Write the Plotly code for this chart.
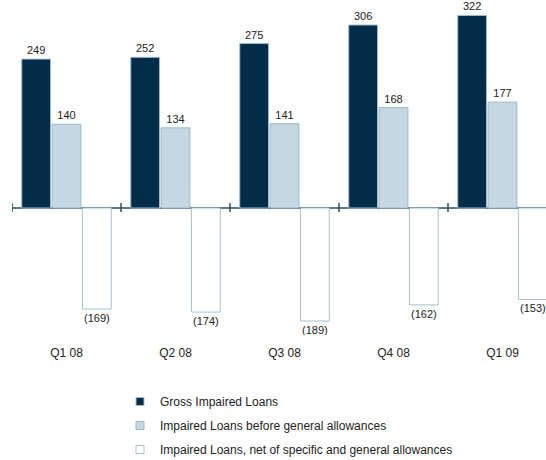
import plotly.graph_objects as go

quarters = ["Q1 08", "Q2 08", "Q3 08", "Q4 08", "Q1 09"]
gross = [249, 252, 275, 306, 322]
before_general = [140, 134, 141, 168, 177]
net = [-169, -174, -189, -162, -153]

names = ["Gross Impaired Loans",
         "Impaired Loans before general allowances",
         "Impaired Loans, net of specific and general allowances"]
fills = ["#032d48", "#c5d7e1", "#ffffff"]
lines = ["#9fbccb", "#9bbaca", "#a5c1cf"]

xs = list(range(len(quarters)))

def lab(v):
    return f"({abs(v)})" if v < 0 else f"{v}"

fig = go.Figure()
for k, (name, vals, fc, lc) in enumerate(zip(names, [gross, before_general, net], fills, lines)):
    fig.add_trace(go.Bar(
        x=xs, y=vals, name=name, showlegend=False, legendgroup=f"g{k}",
        marker=dict(color=fc, line=dict(color=lc, width=1)),
        text=[lab(v) for v in vals], textposition="outside",
        textfont=dict(family="Liberation Sans, Arial", size=11, color="#222222"),
        cliponaxis=True,
    ))
    fig.add_trace(go.Scatter(
        x=[None], y=[None], mode="markers", name=name, legendgroup=f"g{k}",
        marker=dict(symbol="square", size=8, color=fc, line=dict(color=lc, width=1)),
    ))

# category boundary ticks on the zero line
shapes = []
for i in range(len(quarters) + 1):
    shapes.append(dict(type="line", xref="x", yref="y", x0=i - 0.5, x1=i - 0.5,
                       ysizemode="pixel", yanchor=0, y0=-4, y1=5,
                       line=dict(color="#2e4b5b", width=1.5)))

W, H = 546, 460
pxu = 0.598
top_px, zero_px, bot_px = 0, 208, 335
yr = [-(bot_px - zero_px) / pxu, (zero_px - top_px) / pxu]
group_px = 109
left = 12
xr = [-0.5, -0.5 + (W - left) / group_px]

fig.update_layout(
    width=W, height=H,
    margin=dict(l=left, r=0, t=top_px, b=H - bot_px, autoexpand=False),
    paper_bgcolor="white", plot_bgcolor="white",
    barmode="group", bargap=0.165, bargroupgap=0.05,
    font=dict(family="Liberation Sans, Arial", size=12, color="#222222"),
    xaxis=dict(range=xr, tickmode="array", tickvals=xs, ticktext=quarters,
               showgrid=False, zeroline=False, showline=False, ticks="",
               tickangle=0, automargin=False,
               tickfont=dict(size=12, color="#222222"), ticklabelstandoff=9),
    yaxis=dict(range=yr, visible=True, showgrid=False, showticklabels=False,
               zeroline=True, zerolinecolor="#5d7a89", zerolinewidth=2,
               showline=False, ticks="", automargin=False),
    shapes=shapes,
    legend=dict(xref="container", yref="container", x=120 / W, y=1 - 387 / H,
                xanchor="left", yanchor="top", bgcolor="rgba(0,0,0,0)",
                traceorder="grouped", tracegroupgap=5,
                font=dict(size=12, color="#222222")),
    showlegend=True,
)

fig.write_html("out.html", config={"displayModeBar": False},
               post_script="document.body.style.margin='0';document.body.style.overflow='hidden';")
